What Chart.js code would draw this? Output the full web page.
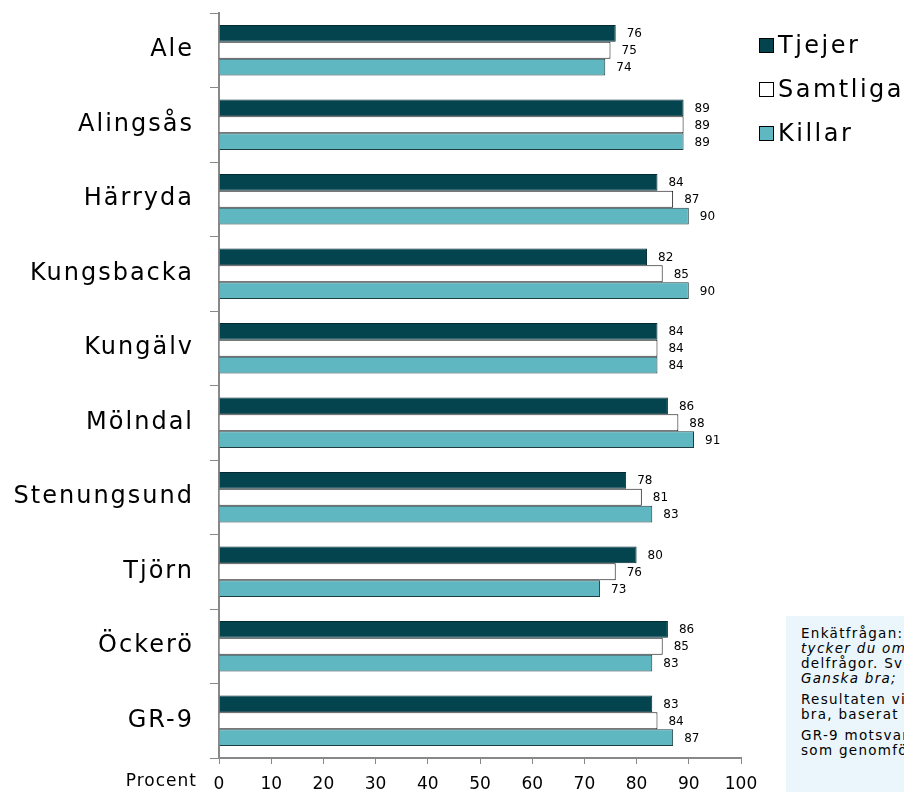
<!DOCTYPE html>
<html>
<head>
<meta charset="utf-8">
<script src="https://cdn.jsdelivr.net/npm/chart.js@4"></script>
<style>
  html, body { margin: 0; padding: 0; background: #fff; overflow: hidden; }
  #wrap { position: relative; width: 904px; height: 792px; }
  #legend { position: absolute; left: 759px; top: 23px; font-family: "DejaVu Sans", Verdana, sans-serif; font-size: 24px; letter-spacing: 2.5px; color: #000; }
  .item { display: flex; align-items: center; height: 44px; }
  .sw { width: 15px; height: 15px; border: 1px solid #000; margin-right: 4px; box-sizing: border-box; }
  #note { position: absolute; left: 786px; top: 616px; width: 300px; height: 200px; background: #eaf6fb;
          font-family: "DejaVu Sans", Verdana, sans-serif; font-size: 13.5px; letter-spacing: 1.3px; line-height: 15px; color: #000;
          padding: 10px 0 0 15px; box-sizing: border-box; white-space: nowrap; }
  #note p { margin: 0 0 6px 0; }
</style>
</head>
<body>
<div id="wrap">
  <canvas id="chart" width="904" height="792"></canvas>
  <div id="legend"></div>
  <div id="note">
    <p>Enkätfrågan:<br><i>tycker du om skolan?</i><br>delfrågor. Svarsalternativ:<br><i>Ganska bra;</i></p>
    <p>Resultaten visar andel<br>bra, baserat på samtliga</p>
    <p>GR-9 motsvarar alla<br>som genomförde enkäten</p>
  </div>
</div>
<script>
const categories = ['Ale', 'Alingsås', 'Härryda', 'Kungsbacka', 'Kungälv', 'Mölndal', 'Stenungsund', 'Tjörn', 'Öckerö', 'GR-9'];
const tjejer   = [76, 89, 84, 82, 84, 86, 78, 80, 86, 83];
const samtliga = [75, 89, 87, 85, 84, 88, 81, 76, 85, 84];
const killar   = [74, 89, 90, 90, 84, 91, 83, 73, 83, 87];
const seriesNames = ['Tjejer', 'Samtliga', 'Killar'];
const xTicks = [0, 10, 20, 30, 40, 50, 60, 70, 80, 90, 100];

const colors = ['#03444f', '#ffffff', '#5fb8c1'];
const font = '"DejaVu Sans", Verdana, sans-serif';

// legend
const leg = document.getElementById('legend');
seriesNames.forEach((n, i) => {
    const d = document.createElement('div');
    d.className = 'item';
    d.innerHTML = '<span class="sw" style="background:' + colors[i] + '"></span>' + n;
    leg.appendChild(d);
});

// value labels, category labels and "Procent"
const textPlugin = {
    id: 'textPlugin',
    afterDatasetsDraw(chart) {
        const ctx = chart.ctx;
        ctx.save();
        ctx.font = '12px ' + font;
        ctx.fillStyle = '#000';
        ctx.textBaseline = 'middle';
        ctx.textAlign = 'left';
        chart.data.datasets.forEach((ds, i) => {
            chart.getDatasetMeta(i).data.forEach((bar, j) => {
                ctx.fillText(ds.data[j], bar.x + 11, bar.y + 1);
            });
        });

        const y = chart.scales.y;
        ctx.font = '24px ' + font;
        ctx.letterSpacing = '2px';
        ctx.textAlign = 'right';
        categories.forEach((c, i) => {
            ctx.fillText(c, chart.chartArea.left - 25, y.getPixelForValue(i));
        });

        ctx.font = '17px ' + font;
        ctx.letterSpacing = '1px';
        ctx.fillText('Procent', chart.chartArea.left - 22, 782);
        ctx.letterSpacing = '0px';
        ctx.restore();
    }
};

new Chart(document.getElementById('chart').getContext('2d'), {
    type: 'bar',
    data: {
        labels: categories,
        datasets: [
            { label: seriesNames[0], data: tjejer, backgroundColor: colors[0], borderColor: '#022a31', borderWidth: 1 },
            { label: seriesNames[1], data: samtliga, backgroundColor: colors[1], borderColor: '#111', borderWidth: 1 },
            { label: seriesNames[2], data: killar, backgroundColor: colors[2], borderColor: '#1d3d40', borderWidth: 1 }
        ]
    },
    options: {
        indexAxis: 'y',
        responsive: false,
        animation: false,
        events: [],
        layout: { padding: { top: 13, right: 163, left: 0, bottom: 0 } },
        datasets: { bar: { categoryPercentage: 0.68, barPercentage: 1 } },
        plugins: { legend: { display: false }, tooltip: { enabled: false } },
        scales: {
            x: {
                min: 0, max: 100,
                afterBuildTicks: s => { s.ticks = xTicks.map(v => ({ value: v })); },
                afterFit: s => { s.height = 34; s.paddingLeft = 0; },
                grid: { drawOnChartArea: false, drawTicks: true, tickLength: 6, color: '#888' },
                border: { color: '#888', width: 2 },
                ticks: { color: '#000', font: { family: font, size: 17 }, padding: 10, maxRotation: 0 }
            },
            y: {
                afterFit: s => { s.width = 219; s.paddingTop = 0; s.paddingBottom = 0; },
                grid: { drawOnChartArea: false, drawTicks: true, tickLength: 9, color: '#888', offset: true },
                border: { color: '#888', width: 2 },
                ticks: { display: false }
            }
        }
    },
    plugins: [textPlugin]
});
</script>
</body>
</html>
